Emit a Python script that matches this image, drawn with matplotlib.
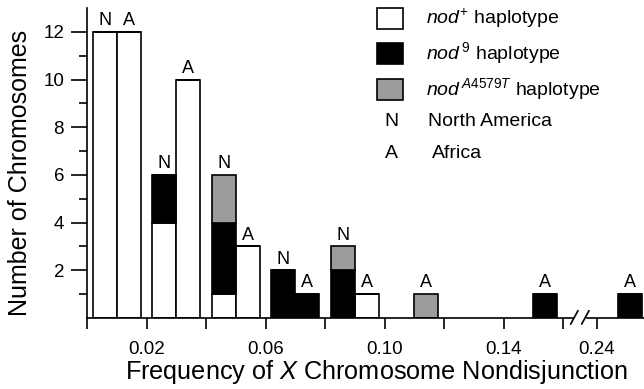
import numpy as np
import matplotlib
matplotlib.use('Agg')
import matplotlib.pyplot as plt
from matplotlib.patches import Rectangle

plt.rcParams['font.family'] = ['Liberation Sans', 'DejaVu Sans']
plt.rcParams['mathtext.fontset'] = 'custom'
plt.rcParams['mathtext.rm'] = 'Liberation Sans'
plt.rcParams['mathtext.it'] = 'Liberation Sans:italic'

# one entry per bar: frequency class, region, and counts per haplotype
freq = [0.01, 0.01, 0.03, 0.03, 0.05, 0.05, 0.07, 0.07, 0.09, 0.09, 0.11, 0.15, 0.247]
region = ['N', 'A', 'N', 'A', 'N', 'A', 'N', 'A', 'N', 'A', 'A', 'A', 'A']
nod_plus = [12, 12, 4, 10, 1, 3, 0, 0, 0, 1, 0, 0, 0]
nod_9 = [0, 0, 2, 0, 3, 0, 2, 1, 2, 0, 0, 1, 1]
nod_a4579t = [0, 0, 0, 0, 2, 0, 0, 0, 1, 0, 1, 0, 0]

tick_vals = [0.0, 0.02, 0.04, 0.06, 0.08, 0.10, 0.12, 0.14, 0.16, 0.24]
tick_labels = ['', '0.02', '', '0.06', '', '0.10', '', '0.14', '', '0.24']

BAR_W = 0.008
GAP = 0.0686      # values past the break are shifted left by this much
BREAK_AT = 0.2
GRAY = '#9c9c9c'
LW = 1.2


def to_plot(x):
    x = np.asarray(x, dtype=float)
    return np.where(x > BREAK_AT, x - GAP, x)


fig = plt.figure(figsize=(6.44, 3.89), dpi=100)
ax = fig.add_axes([87 / 644, 71 / 389, 1 - 87 / 644, (318 - 8) / 389])

xp = to_plot(freq)
left = np.where(np.array(region) == 'N', xp - BAR_W, xp)
white = np.array(nod_plus)
black = np.array(nod_9)
gray = np.array(nod_a4579t)

ax.bar(left, white, width=BAR_W, align='edge', color='white',
       edgecolor='black', linewidth=LW, zorder=2)
ax.bar(left, black, bottom=white, width=BAR_W, align='edge', color='black',
       edgecolor='black', linewidth=LW, zorder=2)
ax.bar(left, gray, bottom=white + black, width=BAR_W, align='edge', color=GRAY,
       edgecolor='black', linewidth=LW, zorder=2)

total = white + black + gray
for x, t, r in zip(left, total, region):
    ax.annotate(r, (x + BAR_W / 2, t), xytext=(0, 2), textcoords='offset points',
                ha='center', va='bottom', fontsize=13)

xmax = (644 - 87) / 59.5 * 0.02
ax.set_xlim(0, xmax)
ax.set_ylim(0, 13)

# x axis line with a break
b1 = to_plot(0.1633)
b2 = 0.168
ax.plot([0, b1], [0, 0], color='black', lw=LW, clip_on=False, zorder=3)
ax.plot([b2, xmax], [0, 0], color='black', lw=LW, clip_on=False, zorder=3)
dx = 0.0012
for bx in (b1 + 0.0005, b2 - 0.0005):
    ax.plot([bx - dx, bx + dx], [-0.25, 0.3], color='black', lw=LW,
            clip_on=False, zorder=3)

ax.spines['top'].set_visible(False)
ax.spines['right'].set_visible(False)
ax.spines['bottom'].set_visible(False)
ax.spines['left'].set_linewidth(LW)

ax.set_xticks(to_plot(tick_vals))
ax.set_xticklabels(tick_labels, fontsize=13.5)
ax.tick_params(axis='x', direction='out', length=8, width=LW, pad=8.5)

ax.set_yticks([2, 4, 6, 8, 10, 12])
ax.set_yticks([1, 3, 5, 7, 9, 11], minor=True)
ax.tick_params(axis='y', which='major', direction='out', length=11.5, width=LW,
               pad=5, labelsize=13.5)
ax.tick_params(axis='y', which='minor', direction='out', length=6, width=LW)

ax.set_xlabel(r'Frequency of $\mathit{X}$ Chromosome Nondisjunction', fontsize=18.2,
              labelpad=0)
ax.xaxis.label.set_x(0.519)
ax.set_ylabel('Number of Chromosomes', fontsize=18, labelpad=8)
ax.yaxis.label.set_y(0.468)

# legend drawn by hand
W, H = 644, 389


def fx(px):
    return px / W


def fy(py):
    return 1 - py / H


entries = [('white', r'$\mathit{nod}^{+}$ haplotype', 8),
           ('black', r'$\mathit{nod}^{\,\mathit{9}}$ haplotype', 43),
           (GRAY, r'$\mathit{nod}^{\,\mathit{A4579T}}$ haplotype', 79)]
for col, label, top in entries:
    fig.add_artist(Rectangle((fx(377), fy(top + 21)), 26 / W, 21 / H,
                             facecolor=col, edgecolor='black', linewidth=LW,
                             transform=fig.transFigure))
    fig.text(fx(426), fy(top + 10.5), label, fontsize=14, va='center', ha='left')

fig.text(fx(391), fy(121), 'N', fontsize=14, va='center', ha='center')
fig.text(fx(428), fy(121), 'North America', fontsize=14, va='center', ha='left')
fig.text(fx(391), fy(153), 'A', fontsize=14, va='center', ha='center')
fig.text(fx(432), fy(153), 'Africa', fontsize=14, va='center', ha='left')

fig.savefig('out.png', dpi=100)
